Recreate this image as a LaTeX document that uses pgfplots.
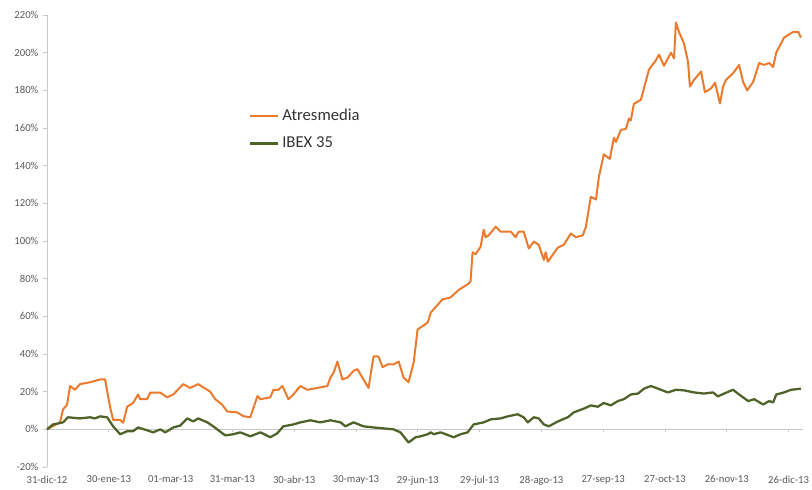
\documentclass[border=0pt]{standalone}
\usepackage{pgfplots}
\pgfplotsset{compat=1.18}
\usepackage{fontspec}
\setmainfont{Carlito}
\definecolor{atres}{RGB}{234,122,46}
\definecolor{ibex}{RGB}{79,98,40}
\definecolor{txt}{RGB}{89,89,89}
\definecolor{axl}{RGB}{200,200,200}
\begin{document}
\begin{tikzpicture}
\begin{axis}[
  scale only axis, width=567pt, height=339pt,
  xmin=0, xmax=367, ymin=-20, ymax=220,
  axis y line=left, axis x line=bottom,
  axis line style={-},
  x axis line style={draw=none},
  y axis line style={axl, line width=0.6pt},
  tick align=outside,
  xtick={0,30,...,360},
  xticklabels={31-dic-12,30-ene-13,01-mar-13,31-mar-13,30-abr-13,30-may-13,29-jun-13,29-jul-13,28-ago-13,27-sep-13,27-oct-13,26-nov-13,26-dic-13},
  major x tick style={draw=none},
  ytick={-20,0,...,220},
  yticklabel={\pgfmathprintnumber{\tick}\%},
  y tick style={axl, line width=0.6pt},
  major tick length=3pt,
  /pgf/number format/assume math mode=true,
  ticklabel style={font=\fontsize{8}{9}\selectfont, text=txt},
  extra y ticks={0}, extra y tick labels={},
  extra y tick style={grid=major, major grid style={axl, line width=0.6pt}, tick style={draw=none}},
  legend style={at={(0.262,0.805)}, anchor=north west, draw=none, fill=none,
    font=\fontsize{12.5}{15}\selectfont, row sep=7pt, text=black!80},
  legend cell align=left,
  legend image code/.code={\draw[#1] (0pt,0pt) -- (21pt,0pt);},
  clip=false,
]
\addplot[ycomb, axl, line width=0.6pt, forget plot] coordinates {(30,-1.5)(60,-1.5)(90,-1.5)(120,-1.5)(150,-1.5)(180,-1.5)(210,-1.5)(240,-1.5)(270,-1.5)(300,-1.5)(330,-1.5)(360,-1.5)};
\addplot[atres, line width=1.5pt, line join=round] coordinates {
(0,0)(6.3,3.7)(7.8,10.6)(9.7,13)(11.2,23)(13.6,21)(16,24)(20.9,25)(25.8,26.5)(28.2,26.5)(30.6,12)(32.1,5)(35.5,5)(37,3.5)(38.9,12)(41.8,14)(44.2,18.5)(45.2,16)(48.6,16)(50.1,19.5)(55,19.5)(58.3,17)(61.3,18.5)(66.1,24)(69.5,22)(73.4,24)(77.8,21)(79.2,20)(81.7,16)(85.1,13)(87.5,9.5)(92.4,9)(95.3,7)(98.7,6.4)(102.1,17.6)(103.6,16)(108.4,17)(109.9,21)(112.3,21)(114.3,23)(117.2,16)(119.6,18.5)(123,23)(126.4,21)(131.3,22)(136.1,23)(137.6,27.5)(139.1,30)(141,36)(143.4,26.5)(145.9,27.5)(148.8,31)(150.7,32)(153.6,26.5)(156.1,22)(158.5,38.7)(160.9,38.7)(162.9,33)(165.3,34.5)(168.2,34.5)(170.7,36)(173.1,27.5)(175.5,25)(178,35.5)(179.9,53)(184.8,56.7)(186.3,62)(189.6,66)(191.1,68)(192,69)(195.9,70)(199.8,74)(204.2,77)(205.6,78.5)(206.6,94)(208.1,93)(210.5,97)(212,106)(212.9,102)(214.4,103)(217.8,107.6)(220.2,105)(225.1,105)(227.5,102)(229,105)(231.4,105)(233.9,96)(236.3,99.7)(238.7,98)(241.2,90)(242.1,94)(243.1,89)(248,96.5)(250.9,98)(254.3,104)(256.7,102)(260.1,103)(261.6,107.6)(264,123.5)(266.5,122)(267.9,134)(270.3,146)(273.2,143.6)(275.2,154.8)(276.2,152.6)(278.6,159)(281,159.5)(282.5,165)(283.4,164)(284.9,172.8)(288.3,175)(292.2,191)(295.6,196)(297.1,199)(299.5,193)(302.9,200)(304.4,197)(305.3,216)(306.8,211)(309.2,205)(311.2,195)(312.1,182)(314.1,185.5)(317.5,190)(319.4,179)(322.3,181)(324.3,184)(326.7,173)(328.2,182)(329.6,185.5)(333,189)(336,193.5)(337.9,184.5)(339.9,180)(342.8,184.5)(345.7,194.5)(348.1,193.5)(350.6,194.5)(352.5,192.4)(354,200)(357.8,208)(362.2,211)(364.7,211)(366,208)
};
\addlegendentry{Atresmedia}
\addplot[ibex, line width=1.7pt, line join=round] coordinates {
(0,0)(2.9,2.6)(7.8,3.7)(10.2,6.4)(16,5.8)(20.9,6.4)(23.3,5.8)(25.8,6.9)(29.2,6.4)(32.1,1.6)(35.5,-2.6)(38.9,-1)(41.8,-1)(44.2,1)(48.6,-0.5)(51.5,-1.6)(55,0)(57.4,-1.6)(61.3,1)(64.7,2)(68.1,5.8)(71,4.2)(73.4,5.8)(77.8,3.7)(80.7,1.6)(86.5,-3.2)(90.4,-2.6)(93.8,-1.6)(98.7,-3.7)(103.6,-1.6)(108.4,-4.2)(111.8,-2.1)(114.7,1.6)(119.6,2.6)(123,3.7)(127.9,4.8)(132.7,3.7)(137.6,4.8)(142.5,3.7)(144.9,1.6)(148.8,3.7)(153.6,1.6)(158.5,1)(163.4,0.5)(168.2,0)(171.6,-1.6)(175.5,-7)(178.9,-4.2)(181.4,-3.7)(184.8,-2.6)(186.3,-1.6)(187.7,-2.6)(191.1,-1.6)(197.4,-4.2)(200.8,-2.6)(204.2,-1.6)(207.1,2.6)(212,3.7)(215.4,5.3)(220.2,5.8)(223.7,6.9)(228.5,8)(231.4,6.4)(233.4,3.7)(236.3,6.4)(238.7,5.8)(241.2,2.6)(243.6,1.6)(248,4.2)(252.8,6.4)(255.7,9)(260.6,11)(264,12.7)(267.4,12)(270.3,14)(273.7,12.7)(277.1,15)(280,16)(283.4,18.5)(286.9,19)(289.8,21.6)(293.2,23)(296.6,21.6)(301.4,19.6)(305.3,21)(309.2,20.7)(314.1,19.6)(318.9,19)(323.3,19.6)(325.7,17.5)(328.7,19)(333,21)(336,18.5)(340.4,15)(343.3,16)(347.6,13.2)(350.6,15)(352.5,14.3)(354,18.5)(357.8,19.6)(361.2,21)(366,21.6)
};
\addlegendentry{IBEX 35}
\end{axis}
\pgfresetboundingbox
\path ([xshift=-35.25pt,yshift=-16.5pt]current axis.south west) rectangle ([xshift=6.75pt,yshift=11.25pt]current axis.north east);
\end{tikzpicture}
\end{document}
